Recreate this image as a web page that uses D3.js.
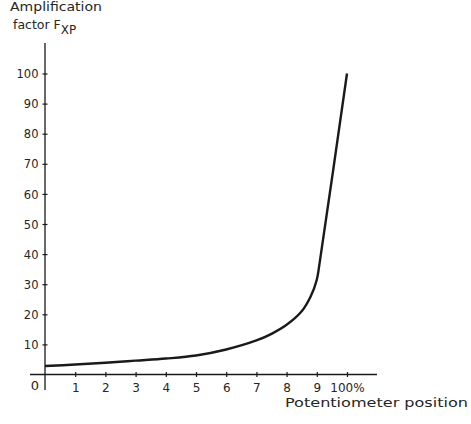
<!DOCTYPE html>
<html><head><meta charset="utf-8">
<script src="https://cdn.jsdelivr.net/npm/d3@7"></script>
<style>body{margin:0;background:#fff}svg{display:block}</style>
</head><body>
<script>
// Data
const positions = [0, 1, 2, 3, 4, 5, 6, 7, 7.5, 8, 8.5, 8.8, 9, 9.1, 10];
const factors   = [2.8, 3.3, 3.9, 4.6, 5.3, 6.3, 8.3, 11.3, 13.5, 16.5, 21, 26, 31.5, 37.5, 100];
const xTickValues = [1, 2, 3, 4, 5, 6, 7, 8, 9, 10];
const xTickLabels = ["1", "2", "3", "4", "5", "6", "7", "8", "9", "100%"];
const yTickValues = [10, 20, 30, 40, 50, 60, 70, 80, 90, 100];

const W = 471, H = 424;
const svg = d3.select("body").append("svg").attr("width", W).attr("height", H);
const x = d3.scaleLinear().domain([0, 10]).range([45, 347]);
const y = d3.scaleLinear().domain([0, 100]).range([374.5, 73.5]);
const ink = "#1a1a1a";
const txt = "#262626";

// axes lines
svg.append("line").attr("x1", 30).attr("x2", 377).attr("y1", y(0)).attr("y2", y(0))
  .attr("stroke", ink).attr("stroke-width", 1.3);
svg.append("line").attr("x1", x(0)).attr("x2", x(0)).attr("y1", 43).attr("y2", 390)
  .attr("stroke", ink).attr("stroke-width", 1.3);

// y axis ticks
const yAxis = d3.axisLeft(y).tickValues(yTickValues).tickSizeInner(2.5).tickSizeOuter(0).tickPadding(4);
const gy = svg.append("g").attr("transform", `translate(${x(0)},0)`).call(yAxis);
gy.select(".domain").remove();
gy.selectAll(".tick line").attr("x2", -2.5).attr("x1", 2.5).attr("stroke", ink).attr("stroke-width", 1.2);
gy.selectAll(".tick text").attr("x", -6.5).attr("dy", "0.36em")
  .attr("font-family", "'DejaVu Sans', sans-serif").attr("font-size", 11.5).attr("fill", txt);

// x axis ticks
const xAxis = d3.axisBottom(x).tickValues(xTickValues).tickFormat((d, i) => xTickLabels[i])
  .tickSizeInner(2.5).tickSizeOuter(0).tickPadding(5);
const gx = svg.append("g").attr("transform", `translate(0,${y(0)})`).call(xAxis);
gx.select(".domain").remove();
gx.selectAll(".tick line").attr("y1", -2.5).attr("y2", 2.5).attr("stroke", ink).attr("stroke-width", 1.2);
gx.selectAll(".tick text").attr("y", 17).attr("dy", 0)
  .attr("font-family", "'DejaVu Sans', sans-serif").attr("font-size", 12).attr("fill", txt);

// origin label
svg.append("text").attr("x", 35).attr("y", 390).attr("text-anchor", "middle")
  .attr("font-family", "'DejaVu Sans', sans-serif").attr("font-size", 13).attr("fill", txt).text("0");

// curve
const pts = positions.map((p, i) => [p, factors[i]]);
svg.append("path").datum(pts)
  .attr("d", d3.line().x(d => x(d[0])).y(d => y(d[1])).curve(d3.curveCatmullRom.alpha(0.5)))
  .attr("fill", "none").attr("stroke", ink).attr("stroke-width", 2.4).attr("stroke-linejoin", "round");

// axis titles
const tf = "'DejaVu Sans', sans-serif";
svg.append("text").attr("x", 10).attr("y", 11).attr("font-family", tf).attr("font-size", 12.5)
  .attr("fill", txt).attr("textLength", 92).attr("lengthAdjust", "spacingAndGlyphs").text("Amplification");
const t2 = svg.append("text").attr("x", 13).attr("y", 29).attr("font-family", tf).attr("font-size", 12.5).attr("fill", txt);
t2.append("tspan").text("factor F");
t2.append("tspan").attr("dy", 5).attr("font-size", 12).text("XP");
svg.append("text").attr("x", 285).attr("y", 407).attr("font-family", tf).attr("font-size", 13)
  .attr("fill", txt).attr("textLength", 183).attr("lengthAdjust", "spacingAndGlyphs").text("Potentiometer position");
</script>
</body></html>
